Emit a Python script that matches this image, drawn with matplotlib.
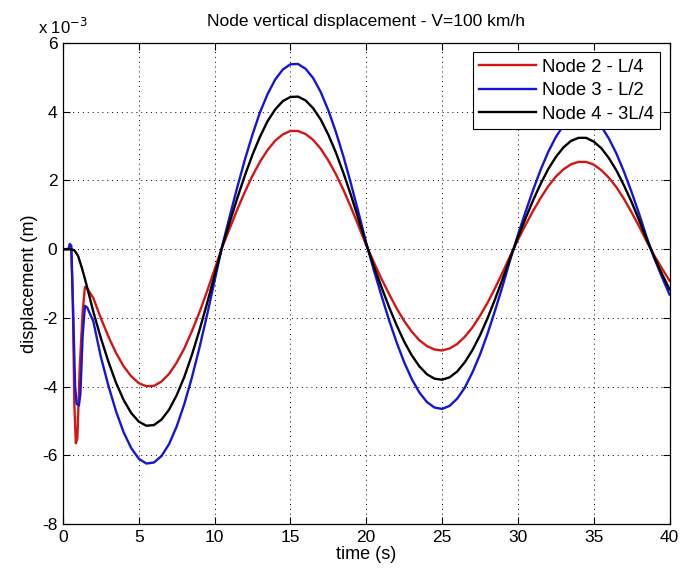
import numpy as np
import matplotlib
matplotlib.use("Agg")
import matplotlib.pyplot as plt

plt.rcParams['font.family'] = ['Liberation Sans', 'DejaVu Sans']

# ---- data (displacement in 1e-3 m) ----
t_main = np.arange(2.0, 40.001, 0.5)

red_t0 = [0, 0.55, 0.65, 0.75, 0.85, 0.95, 1.1, 1.3, 1.45, 1.6]
red_v0 = [0, 0, -1.5, -4.5, -5.65, -5.5, -3.5, -1.8, -1.1, -1.15]
red_main = [
    -1.42, -2.01, -2.55, -3.02, -3.41, -3.70, -3.90, -3.99, -3.98, -3.85,
    -3.63, -3.30, -2.89, -2.39, -1.84, -1.23, -0.59, 0.06, 0.61, 1.16,
    1.67, 2.14, 2.55, 2.89, 3.16, 3.34, 3.44, 3.44, 3.35, 3.18,
    2.92, 2.58, 2.18, 1.72, 1.21, 0.67, 0.11, -0.38, -0.86, -1.30,
    -1.72, -2.09, -2.40, -2.65, -2.82, -2.92, -2.95, -2.89, -2.76, -2.55,
    -2.28, -1.94, -1.56, -1.13, -0.67, -0.19, 0.27, 0.70, 1.11, 1.49,
    1.83, 2.11, 2.32, 2.47, 2.54, 2.54, 2.46, 2.30, 2.08, 1.80,
    1.46, 1.07, 0.66, 0.22, -0.19, -0.56, -0.92]

blue_t0 = [0, 0.35, 0.45, 0.55, 0.65, 0.8, 0.9, 1.05, 1.15, 1.3, 1.45, 1.6]
blue_v0 = [0, 0, 0.15, 0.1, -1.5, -4.0, -4.5, -4.55, -4.2, -2.5, -1.65, -1.7]
blue_main = [
    -2.10, -3.14, -3.98, -4.72, -5.33, -5.79, -6.10, -6.24, -6.21, -6.02,
    -5.67, -5.16, -4.51, -3.74, -2.87, -1.92, -0.92, 0.09, 0.96, 1.81,
    2.61, 3.34, 3.99, 4.52, 4.94, 5.23, 5.38, 5.39, 5.25, 4.98,
    4.57, 4.04, 3.41, 2.69, 1.89, 1.05, 0.18, -0.61, -1.35, -2.06,
    -2.71, -3.29, -3.78, -4.17, -4.45, -4.61, -4.65, -4.56, -4.35, -4.03,
    -3.59, -3.07, -2.46, -1.78, -1.06, -0.30, 0.41, 1.08, 1.72, 2.31,
    2.83, 3.26, 3.60, 3.83, 3.94, 3.93, 3.81, 3.57, 3.22, 2.78,
    2.25, 1.66, 1.02, 0.34, -0.27, -0.81, -1.32]

black_t0 = [0, 0.5, 0.75, 1.0, 1.25, 1.5, 1.75]
black_v0 = [0, 0, -0.03, -0.2, -0.55, -0.95, -1.38]
black_main = [
    -1.82, -2.59, -3.28, -3.89, -4.39, -4.77, -5.02, -5.14, -5.12, -4.96,
    -4.67, -4.25, -3.72, -3.08, -2.36, -1.58, -0.76, 0.07, 0.79, 1.49,
    2.15, 2.75, 3.28, 3.73, 4.07, 4.31, 4.43, 4.44, 4.33, 4.10,
    3.77, 3.33, 2.81, 2.21, 1.56, 0.86, 0.15, -0.50, -1.10, -1.68,
    -2.21, -2.69, -3.09, -3.41, -3.64, -3.77, -3.80, -3.73, -3.56, -3.29,
    -2.94, -2.51, -2.01, -1.45, -0.86, -0.25, 0.34, 0.89, 1.42, 1.90,
    2.33, 2.68, 2.96, 3.15, 3.24, 3.24, 3.13, 2.94, 2.65, 2.29,
    1.85, 1.37, 0.84, 0.28, -0.24, -0.72, -1.17]

labels = ['Node 2 - L/4', 'Node 3 - L/2', 'Node 4 - 3L/4']
x_ticks = [0, 5, 10, 15, 20, 25, 30, 35, 40]
y_ticks = [-8, -6, -4, -2, 0, 2, 4, 6]

# ---- figure ----
fig = plt.figure(figsize=(6.8, 5.72), dpi=100)
ax = fig.add_axes([0.0926, 0.0839, 0.8920, 0.8409])

red_t = np.concatenate([red_t0, t_main])
red_v = np.concatenate([red_v0, red_main])
blue_t = np.concatenate([blue_t0, t_main])
blue_v = np.concatenate([blue_v0, blue_main])
black_t = np.concatenate([black_t0, t_main])
black_v = np.concatenate([black_v0, black_main])

ax.plot(red_t, red_v, color='#d41515', lw=1.7, label=labels[0])
ax.plot(blue_t, blue_v, color='#1515d8', lw=1.7, label=labels[1])
ax.plot(black_t, black_v, color='black', lw=1.7, label=labels[2])

ax.set_xlim(0, 40)
ax.set_ylim(-8, 6)
ax.set_xticks(x_ticks)
ax.set_yticks(y_ticks)
ax.set_xticklabels([str(v) for v in x_ticks])
ax.set_yticklabels([str(v) for v in y_ticks])
ax.tick_params(direction='in', length=5, top=True, right=True, labelsize=12.5, pad=4)
ax.grid(True, color='black', linestyle=(0, (1, 4)), linewidth=0.7)
for s in ax.spines.values():
    s.set_linewidth(0.9)

ax.set_xlabel('time (s)', fontsize=13, labelpad=1)
ax.set_ylabel('displacement (m)', fontsize=13, labelpad=3)
ax.set_title('Node vertical displacement - V=100 km/h', fontsize=12.5, pad=12)
ax.text(0.0, 1.012, r'x 10$^{-3}$', transform=ax.transAxes, fontsize=12,
        ha='center', va='bottom')

leg = ax.legend(loc='upper right', fontsize=13.3, handlelength=3.1, fancybox=False,
                framealpha=1, edgecolor='black', borderaxespad=0.5,
                labelspacing=0.35, handletextpad=0.3, borderpad=0.35)
leg.get_frame().set_linewidth(0.8)

fig.savefig('out.png', dpi=100)
